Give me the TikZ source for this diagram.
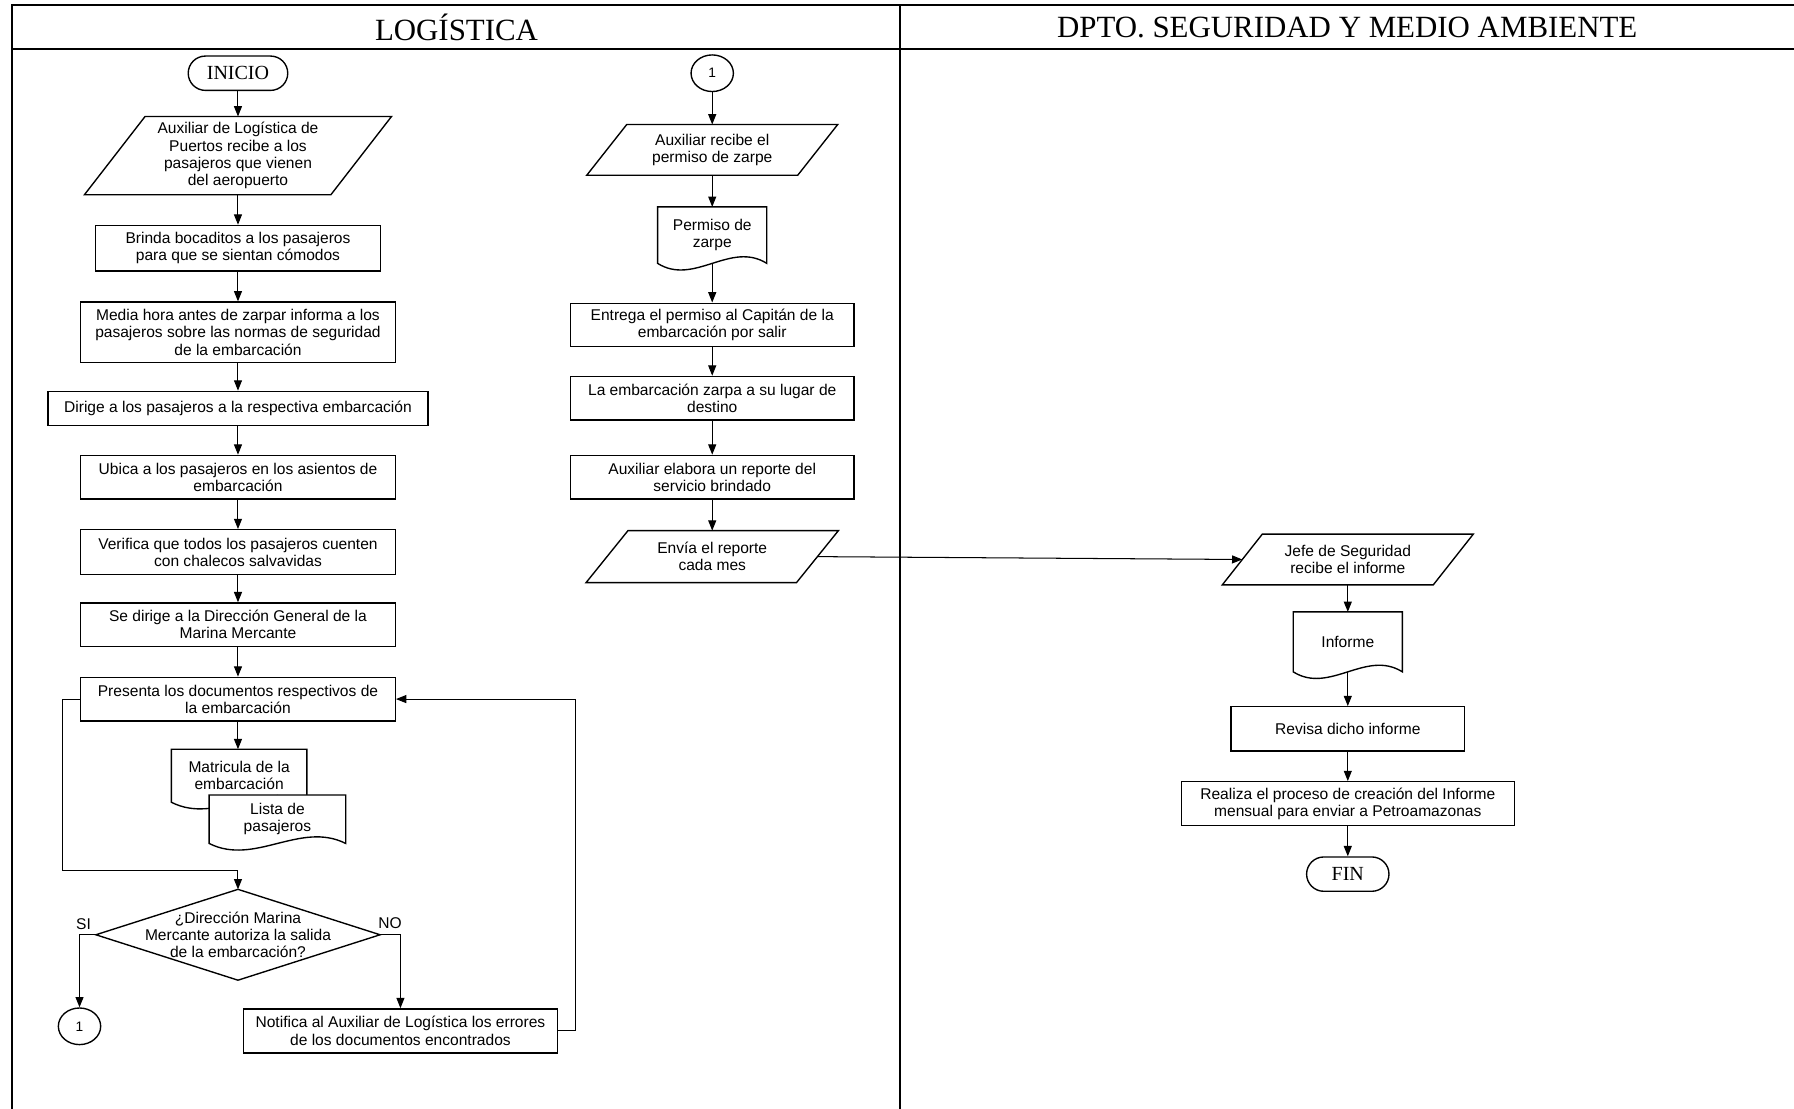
\documentclass[tikz,border=0pt]{standalone}
\usepackage{fontspec}
\setmainfont{Liberation Sans}
\newfontfamily\headfont{Liberation Serif}
\usetikzlibrary{arrows.meta,calc,shapes.geometric}
\pgfdeclarelayer{shapes}
\pgfsetlayers{shapes,main}

\tikzset{
  every node/.style={inner sep=0pt, align=center, font=\fontsize{13.6}{15}\selectfont},
  outline/.style={draw=black, line width=1.2pt, line join=miter},
  box/.style n args={2}{outline, minimum width=#1pt, minimum height=#2pt},
  pnode/.style n args={2}{minimum width=#1pt, minimum height=#2pt},
  dnode/.style n args={2}{minimum width=#1pt, minimum height=#2pt},
  term/.style={outline, rounded corners=15pt, minimum width=87pt, minimum height=30pt,
    font=\headfont\fontsize{17.5}{18}\selectfont},
  conn/.style={outline, ellipse, minimum width=37pt, minimum height=32pt,
    font=\fontsize{12}{13}\selectfont},
  frame/.style={line width=1.8pt},
  lane/.style={font=\headfont\fontsize{27}{28}\selectfont},
  flow/.style={-{Triangle[length=9pt,width=7pt]}, line width=0.9pt},
  lbl/.style={font=\fontsize{13.6}{15}\selectfont},
}

% input/output parallelogram drawn around a node: #1 name, #2 half slant
\newcommand\paraShape[2]{%
  \begin{pgfonlayer}{shapes}
  \draw[outline] ([xshift=#2]#1.north west) -- ([xshift=#2]#1.north east)
     -- ([xshift=-#2]#1.south east) -- ([xshift=-#2]#1.south west) -- cycle;
  \end{pgfonlayer}}
% document symbol with a wavy lower edge: #1 name, #2 wave control offset
\newcommand\docShape[2]{%
  \begin{pgfonlayer}{shapes}
  \draw[outline, fill=white] (#1.south west) -- (#1.north west) -- (#1.north east) -- (#1.south east)
     .. controls ($(#1.south east)!1/3!(#1.south west)+(0pt,#2)$)
         and ($(#1.south east)!2/3!(#1.south west)+(0pt,-#2)$) .. (#1.south west) -- cycle;
  \end{pgfonlayer}}
% decision rhombus through the four side anchors of a node
\newcommand\diaShape[1]{%
  \begin{pgfonlayer}{shapes}
  \draw[outline] (#1.north) -- (#1.east) -- (#1.south) -- (#1.west) -- cycle;
  \end{pgfonlayer}}

\begin{document}
\begin{tikzpicture}[x=1pt, y=-1pt]
\useasboundingbox (0,0) rectangle (1568,969);

% swimlane frame
\draw[frame] (10.8,969) -- (10.8,4.4) -- (1568,4.4);
\draw[frame] (10.8,42.8) -- (1568,42.8);
\draw[frame] (786.6,4.4) -- (786.6,969);
\node[lane] (hlog) at (399,24) {LOGÍSTICA};
\node[lane] (hseg) at (1177.5,24) {DPTO. SEGURIDAD Y MEDIO AMBIENTE};

% ---- Logística, first column
\node[term] (inicio) at (208,64) {INICIO};
\node[pnode={215}{68}] (aux1) at (208,136) {Auxiliar de Logística de\\Puertos recibe a los\\pasajeros que vienen\\del aeropuerto};
\paraShape{aux1}{26.5pt}
\node[box={249}{40}] (brinda) at (208,217) {Brinda bocaditos a los pasajeros\\para que se sientan cómodos};
\node[box={275}{53}] (media) at (208,290.5) {Media hora antes de zarpar informa a los\\pasajeros sobre las normas de seguridad\\de la embarcación};
\node[box={332}{30}] (dirige) at (208,357) {Dirige a los pasajeros a la respectiva embarcación};
\node[box={275}{38}] (ubica) at (208,417) {Ubica a los pasajeros en los asientos de\\embarcación};
\node[box={275}{39}] (verifica) at (208,482.5) {Verifica que todos los pasajeros cuenten\\con chalecos salvavidas};
\node[box={275}{38}] (sedirige) at (208,546) {Se dirige a la Dirección General de la\\Marina Mercante};
\node[box={275}{38}] (presenta) at (208,611) {Presenta los documentos respectivos de\\la embarcación};
\node[dnode={118}{46}] (matricula) at (209,678) {Matricula de la\\embarcación};
\docShape{matricula}{20pt}
\node[dnode={119}{42}] (lista) at (242.5,716) {Lista de\\pasajeros};
\docShape{lista}{20pt}
\node[pnode={248}{79}] (decision) at (208,817) {¿Dirección Marina\\Mercante autoriza la salida\\de la embarcación?};
\diaShape{decision}
\node[lbl] (si) at (73,808) {SI};
\node[lbl] (no) at (341,807) {NO};
\node[conn] (c1a) at (69.5,897) {1};
\node[box={274}{38.5}] (notifica) at (350,901) {Notifica al Auxiliar de Logística los errores\\de los documentos encontrados};

% ---- Logística, second column
\node[conn] (c1b) at (622.5,64) {1};
\node[pnode={184}{44}] (recibe) at (622.5,131) {Auxiliar recibe el\\permiso de zarpe};
\paraShape{recibe}{17.5pt}
\node[dnode={95}{49}] (permiso) at (622.5,205.5) {Permiso de\\zarpe};
\docShape{permiso}{20pt}
\node[box={248}{38}] (entrega) at (622.5,284) {Entrega el permiso al Capitán de la\\embarcación por salir};
\node[box={248}{38}] (zarpa) at (622.5,348) {La embarcación zarpa a su lugar de\\destino};
\node[box={248}{38}] (reporte) at (622.5,417) {Auxiliar elabora un reporte del\\servicio brindado};
\node[pnode={183.5}{45}] (envia) at (622.5,486.5) {Envía el reporte\\cada mes};
\paraShape{envia}{18.3pt}

% ---- Seguridad y Medio Ambiente
\node[pnode={184}{44}] (jefe) at (1178,489) {Jefe de Seguridad\\recibe el informe};
\paraShape{jefe}{17.5pt}
\node[dnode={95}{52}] (informe) at (1178,561) {Informe};
\docShape{informe}{20pt}
\node[box={204}{38.5}] (revisa) at (1178,637) {Revisa dicho informe};
\node[box={291}{38.5}] (realiza) at (1178,702.5) {Realiza el proceso de creación del Informe\\mensual para enviar a Petroamazonas};
\node[term, minimum width=72pt] (fin) at (1178,764) {FIN};

% ---- connectors
\foreach \a/\b in {inicio/aux1, aux1/brinda, brinda/media, media/dirige, dirige/ubica,
  ubica/verifica, verifica/sedirige, sedirige/presenta,
  c1b/recibe, recibe/permiso, permiso/entrega, entrega/zarpa, zarpa/reporte, reporte/envia,
  jefe/informe, informe/revisa, revisa/realiza, realiza/fin}
  \draw[flow] (\a.south) -- (\a.south |- \b.north);
\draw[flow] (presenta.south) -- (presenta.south |- matricula.north);

\coordinate (loopL) at (55,761);
\draw[flow] (presenta.west) -| (loopL) -- (loopL -| decision.north) -- (decision.north);
\draw[flow] (decision.west) -| (c1a.north);
\draw[flow] (decision.east) -| (notifica.north);
\coordinate (loopR) at (503,611);
\draw[flow] (notifica.east) -| (loopR) -- (presenta.east);
\draw[flow] (envia.east) -- (jefe.west);
\end{tikzpicture}
\end{document}
